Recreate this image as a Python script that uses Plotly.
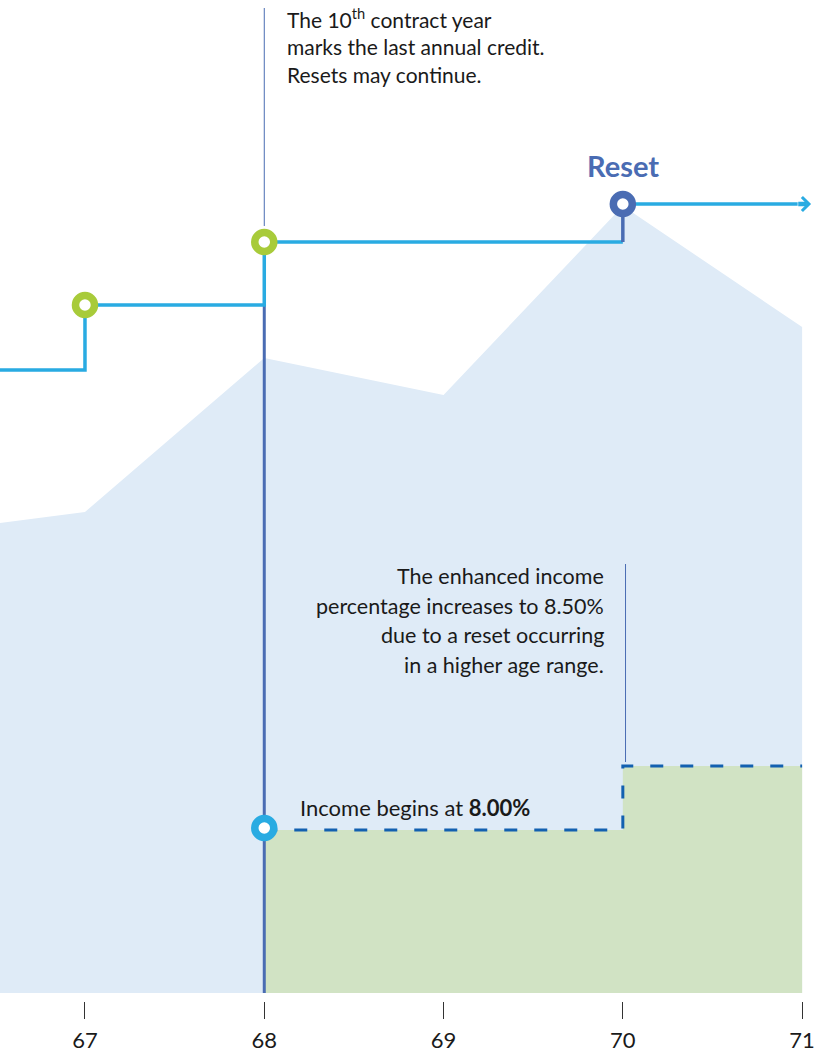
import plotly.graph_objects as go

# ---------------- data ----------------
ages = [66, 67, 68, 69, 70, 71]
market_value = [45.8, 48.1, 63.5, 59.8, 78.7, 66.6]

base_ages = [66, 67, 68, 70]
benefit_base = [62.3, 68.8, 75.1, 75.1]

reset_age = 70
reset_value = 78.9
base_end_age = 70.975
arrow_age = 71.05

credit_ages = [67, 68]
credit_values = [68.8, 75.1]

income_ages = [68, 70, 71]
income_level = [16.3, 22.7, 22.7]

tick_ages = [67, 68, 69, 70, 71]
tick_labels = ["67", "68", "69", "70", "71"]

note1_lines = ["The 10<sup>th</sup> contract year",
               "marks the last annual credit.",
               "Resets may continue."]
note2_lines = ["The enhanced income",
               "percentage increases to 8.50%",
               "due to a reset occurring",
               "in a higher age range."]
income_note = "Income begins at <b>8.00%</b>"

# ---------------- styles ----------------
C_AREA = "#DFEBF7"
C_GREEN_AREA = "#D1E3C4"
C_CYAN = "#29ABE2"
C_GREEN = "#A8CB3A"
C_DARK = "#4A6CB3"
C_DASH = "#1360B0"
C_TEXT = "#1a1a1a"
FONT = "Lato"

fig = go.Figure()

# market value area
fig.add_trace(go.Scatter(x=ages, y=market_value, mode="lines", fill="tozeroy",
                         fillcolor=C_AREA, line=dict(width=0), hoverinfo="skip"))
# income area
fig.add_trace(go.Scatter(x=income_ages, y=income_level, mode="lines", fill="tozeroy",
                         fillcolor=C_GREEN_AREA, line=dict(width=0, shape="hv"),
                         hoverinfo="skip"))
# income dashed line
fig.add_trace(go.Scatter(x=income_ages, y=income_level, mode="lines",
                         line=dict(color=C_DASH, width=3, dash="13px,17px", shape="hv")))

# vertical 68 dark line (income start)
fig.add_trace(go.Scatter(x=[credit_ages[1], credit_ages[1]], y=[0, credit_values[0]],
                         mode="lines", line=dict(color=C_DARK, width=3)))

# benefit base step line
fig.add_trace(go.Scatter(x=base_ages, y=benefit_base, mode="lines",
                         line=dict(color=C_CYAN, width=3.5, shape="hv")))
# reset vertical
fig.add_trace(go.Scatter(x=[reset_age, reset_age], y=[benefit_base[-1], reset_value],
                         mode="lines", line=dict(color=C_DARK, width=3.5)))
# after reset
fig.add_trace(go.Scatter(x=[reset_age, base_end_age], y=[reset_value, reset_value],
                         mode="lines", line=dict(color=C_CYAN, width=3.5)))
# chevron arrow head
fig.add_annotation(x=arrow_age, y=reset_value, ax=base_end_age - 0.005, ay=reset_value,
                   xref="x", yref="y", axref="x", ayref="y", text="",
                   showarrow=True, arrowhead=4, arrowsize=0.6, arrowwidth=4.5,
                   arrowcolor=C_CYAN, standoff=0, startstandoff=0)

# annotation guide lines
fig.add_shape(type="line", x0=68, x1=68, y0=credit_values[1] + 1.6, y1=98.5,
              line=dict(color=C_DARK, width=1))
fig.add_shape(type="line", x0=70.015, x1=70.015, y0=income_level[1] + 0.4, y1=42.9,
              line=dict(color=C_DARK, width=1))

# annual credit circles
fig.add_trace(go.Scatter(x=credit_ages, y=credit_values, mode="markers",
                         marker=dict(symbol="circle", size=19, color="white",
                                     line=dict(color=C_GREEN, width=7.5))))
# reset circle
fig.add_trace(go.Scatter(x=[reset_age], y=[reset_value], mode="markers",
                         marker=dict(symbol="circle", size=19, color="white",
                                     line=dict(color=C_DARK, width=7.5))))
# income start circle
fig.add_trace(go.Scatter(x=[income_ages[0]], y=[income_level[0] + 0.2], mode="markers",
                         marker=dict(symbol="circle", size=19, color="white",
                                     line=dict(color=C_CYAN, width=7.5))))

# texts
for i, t in enumerate(note1_lines):
    fig.add_annotation(x=68.115, y=97.5 - 2.8 * i, text=t, showarrow=False,
                       xanchor="left", yanchor="middle",
                       font=dict(family=FONT, size=21, color=C_TEXT))
for i, t in enumerate(note2_lines):
    fig.add_annotation(x=69.906, y=41.7 - 2.95 * i, text=t, showarrow=False,
                       xanchor="right", yanchor="middle",
                       font=dict(family=FONT, size=21.5, color=C_TEXT))
fig.add_annotation(x=68.188, y=18.6, text=income_note, showarrow=False,
                   xanchor="left", yanchor="middle",
                   font=dict(family=FONT, size=22, color=C_TEXT))
fig.add_annotation(x=reset_age, y=82.8, text="<b>Reset</b>", showarrow=False,
                   xanchor="center", yanchor="middle",
                   font=dict(family=FONT, size=29, color=C_DARK))

fig.update_layout(
    width=817, height=1053,
    margin=dict(l=0, r=0, t=0, b=52),
    plot_bgcolor="white", paper_bgcolor="white",
    showlegend=False,
    xaxis=dict(range=[66.526, 71.083], showgrid=False, zeroline=False, showline=False,
               tickvals=tick_ages, ticktext=tick_labels, ticks="outside", ticklen=17,
               tickwidth=1, tickcolor="#333333", ticklabelstandoff=3,
               tickfont=dict(family=FONT, size=22, color=C_TEXT)),
    yaxis=dict(range=[-0.8, 99.3], showgrid=False, zeroline=False, showline=False,
               showticklabels=False, ticks=""),
)

fig.write_html("out.html")
